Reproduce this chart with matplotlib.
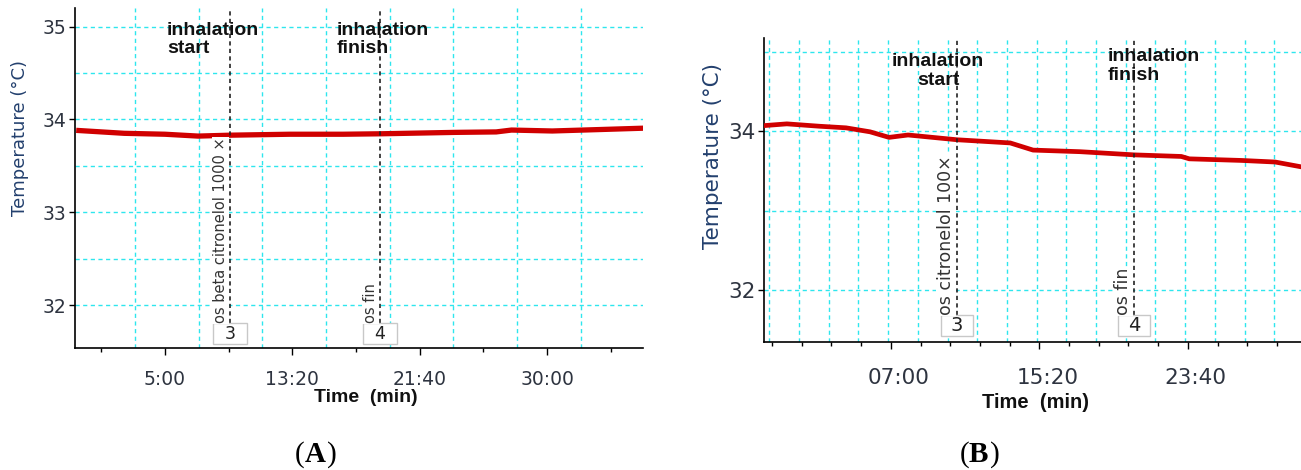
import matplotlib
matplotlib.use("Agg")
import matplotlib.pyplot as plt
from matplotlib.patches import Rectangle
from matplotlib.ticker import FixedLocator, FuncFormatter
import matplotlib.transforms as mtransforms
import numpy as np

# ---- data (time in seconds, temperature in degC) ----
# (A) beta citronellol 1000x
time_a = [-38, 140, 300, 430, 560, 790, 1000, 1150, 1440, 1600, 1660, 1820, 2000, 2176]
temp_a = [33.88, 33.85, 33.84, 33.82, 33.83, 33.84, 33.84, 33.845, 33.86, 33.865, 33.885, 33.875, 33.89, 33.905]
events_a = [555, 1144]
notes_a = ["os beta citronelol 1000 \u00d7", "os fin"]

# (B) citronellol 100x
time_b = [0, 70, 180, 269, 350, 414, 478, 643, 822, 899, 1057, 1239, 1398, 1425, 1600, 1714, 1801]
temp_b = [34.07, 34.09, 34.06, 34.04, 33.99, 33.92, 33.95, 33.89, 33.85, 33.76, 33.74, 33.70, 33.68, 33.65, 33.63, 33.61, 33.55]
events_b = [643, 1239]
notes_b = ["os citronelol 100\u00d7", "os fin"]

event_ids = ["3", "4"]
event_labels = ["inhalation\nstart", "inhalation\nfinish"]

RED = "#d00000"
CYAN = "#2ee6ee"
BOLD = ["Liberation Sans", "DejaVu Sans"]
SERIF = ["Liberation Serif", "DejaVu Serif"]

W, H = 1301, 470
fig = plt.figure(figsize=(W / 100, H / 100), dpi=100)


def px_axes(l, t, r, b):
    return fig.add_axes([l / W, 1 - b / H, (r - l) / W, (b - t) / H])


def style_axes(ax, fs):
    for s in ["top", "right"]:
        ax.spines[s].set_visible(False)
    for s in ["left", "bottom"]:
        ax.spines[s].set_linewidth(1.2)
    ax.tick_params(axis="both", which="major", direction="out", length=4,
                   width=1, labelsize=fs, labelcolor="#2e3440")
    ax.tick_params(axis="x", which="minor", direction="out", length=3, width=1)
    ax.tick_params(axis="y", which="minor", length=0)


def mark_events(ax, xs, notes, box_w, box_top, box_bot, top, fs_note, fs_id):
    for x, note, mid in zip(xs, notes, event_ids):
        ax.vlines(x, box_top, top, colors="#222222", linewidth=1.2,
                  linestyles=(0, (2.5, 2)), zorder=5)
        ax.annotate(note, xy=(x, box_top), xytext=(-1.5, 0), textcoords="offset points",
                    rotation=90, ha="right", va="bottom", fontsize=fs_note, color="#333333",
                    zorder=6, bbox=dict(boxstyle="square,pad=0.05", fc="white", ec="none"))
        ax.add_patch(Rectangle((x - box_w / 2, box_bot), box_w, box_top - box_bot,
                               fc="white", ec="#c8c8c8", lw=1, zorder=5))
        ax.text(x, (box_top + box_bot) / 2, mid, ha="center", va="center",
                fontsize=fs_id, color="#222222", zorder=6)


def panel_tag(x, y, letter, letter_w):
    # "(" and ")" regular, letter bold, like the journal figure captions
    fig.text(x / W, 1 - y / H, "(", ha="right", va="center", fontsize=21, family=SERIF)
    fig.text(x / W, 1 - y / H, letter, ha="left", va="center", fontsize=21,
             fontweight="bold", family=SERIF)
    fig.text((x + letter_w) / W, 1 - y / H, ")", ha="left", va="center", fontsize=21, family=SERIF)


# ---------------- panel A ----------------
axA = px_axes(75, 8, 643, 348)
axA.set_xlim(-53, 2176)
axA.set_ylim(31.537, 35.2)
for gx in np.arange(182, 2176, 250):
    axA.axvline(gx, color=CYAN, lw=1, linestyle=(0, (3, 2.5)), zorder=1)
for gy in np.arange(32, 35.01, 0.5):
    axA.axhline(gy, color=CYAN, lw=1, linestyle=(0, (3, 2.5)), zorder=1)
axA.plot(time_a, temp_a, color=RED, lw=3.8, solid_joinstyle="round", zorder=3)
axA.xaxis.set_major_locator(FixedLocator(np.arange(300, 2176, 500)))
axA.xaxis.set_minor_locator(FixedLocator(np.arange(50, 2176, 500)))
axA.xaxis.set_major_formatter(FuncFormatter(lambda v, p: f"{int(v) // 60}:{int(v) % 60:02d}"))
axA.yaxis.set_major_locator(FixedLocator([32, 33, 34, 35]))
style_axes(axA, 13.5)
axA.tick_params(axis="x", which="major", pad=11, length=5)
axA.tick_params(axis="y", pad=2)
mark_events(axA, events_a, notes_a, 133, 31.806, 31.58, 35.18, 10.5, 12.5)
for x, lab in zip([308, 975], event_labels):
    axA.text(x, 35.05, lab, ha="left", va="top", fontsize=14, fontweight="bold",
             family=BOLD, color="#111111", linespacing=1.1, zorder=7)

fig.text(20 / W, 1 - 138 / H, "Temperature (\u00b0C)", rotation=90, ha="center", va="center",
         fontsize=13, color="#23406e")
fig.text(366 / W, 1 - 398 / H, "Time  (min)", ha="center", va="center",
         fontsize=14, fontweight="bold", family=BOLD, color="#111111")
panel_tag(305, 455, "A", 22)

# ---------------- panel B ----------------
axB = px_axes(764, 38, 1301, 341.7)
axB.set_xlim(-7, 1801)
axB.set_ylim(31.35, 35.17)
for gx in np.arange(11, 1801, 100):
    axB.axvline(gx, color=CYAN, lw=1, linestyle=(0, (3, 2.5)), zorder=1)
for gy in [32, 33, 34, 35]:
    axB.axhline(gy, color=CYAN, lw=1, linestyle=(0, (3, 2.5)), zorder=1)
axB.plot(time_b, temp_b, color=RED, lw=3.4, solid_joinstyle="round", zorder=3)
axB.xaxis.set_major_locator(FixedLocator([420, 920, 1420]))
axB.xaxis.set_minor_locator(FixedLocator(np.arange(20, 1801, 100)))
axB.xaxis.set_major_formatter(FuncFormatter(lambda v, p: f"{int(v) // 60:02d}:{int(v) % 60:02d}"))
axB.yaxis.set_major_locator(FixedLocator([32, 34]))
style_axes(axB, 15.5)
axB.tick_params(axis="x", which="major", pad=14, length=5)
axB.tick_params(axis="y", pad=2)
shift = mtransforms.ScaledTranslation(8 / 100, 0, fig.dpi_scale_trans)
for lab in axB.get_xticklabels():
    lab.set_transform(lab.get_transform() + shift)
mark_events(axB, events_b, notes_b, 108, 31.686, 31.42, 35.17, 12.5, 14)
axB.text(579, 34.98, event_labels[0], ha="center", va="top", fontsize=14, fontweight="bold",
         family=BOLD, color="#111111", linespacing=1.15, multialignment="center", zorder=7)
axB.text(1150, 35.04, event_labels[1], ha="left", va="top", fontsize=14, fontweight="bold",
         family=BOLD, color="#111111", linespacing=1.15, zorder=7)

fig.text(713 / W, 1 - 156 / H, "Temperature (\u00b0C)", rotation=90, ha="center", va="center",
         fontsize=15.5, color="#23406e")
fig.text(1035 / W, 1 - 403 / H, "Time  (min)", ha="center", va="center",
         fontsize=14.5, fontweight="bold", family=BOLD, color="#111111")
panel_tag(969, 455, "B", 20.5)

fig.savefig("out.png", dpi=100)
